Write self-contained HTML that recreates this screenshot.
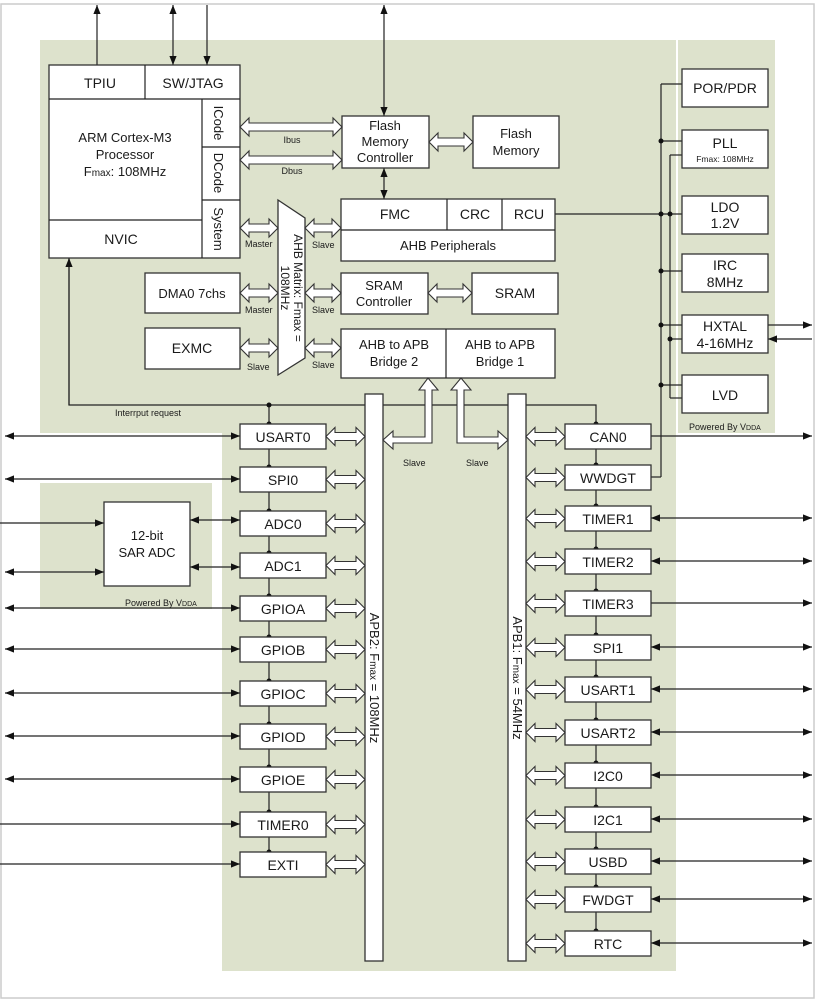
<!DOCTYPE html>
<html><head><meta charset="utf-8"><style>
html,body{margin:0;padding:0;background:#fff}
svg{display:block}
text{font-family:"Liberation Sans",Arial,sans-serif;fill:#1a1a1a}
.b{fill:#fff;stroke:#333;stroke-width:1.3}
.l{stroke:#222;stroke-width:1.2;fill:none}
</style></head><body>
<svg id="s" width="816" height="1000" viewBox="0 0 816 1000" xmlns="http://www.w3.org/2000/svg">
<defs>
<marker id="a" viewBox="0 0 10 10" refX="10" refY="5" markerWidth="9" markerHeight="9" markerUnits="userSpaceOnUse" orient="auto-start-reverse"><path d="M0,1 L10,5 L0,9 z" fill="#111"/></marker>
</defs>
<rect x="1" y="4" width="813" height="994" fill="none" stroke="#ccc" stroke-width="1.5"/>
<rect x="40" y="40" width="636" height="393" fill="#dde2cc"/>
<rect x="222" y="433" width="454" height="538" fill="#dde2cc"/>
<rect x="678" y="40" width="97" height="393" fill="#dde2cc"/>
<rect x="40" y="483" width="172" height="126" fill="#dde2cc"/>
<g id="lines"></g>
<rect class="b" x="49" y="65" width="191" height="193"/>
<line class="l" x1="49" y1="99" x2="240" y2="99"/>
<line class="l" x1="145" y1="65" x2="145" y2="99"/>
<line class="l" x1="202" y1="99" x2="202" y2="258"/>
<line class="l" x1="49" y1="220" x2="202" y2="220"/>
<line class="l" x1="202" y1="147" x2="240" y2="147"/>
<line class="l" x1="202" y1="200" x2="240" y2="200"/>
<text x="100" y="88" font-size="14" text-anchor="middle">TPIU</text>
<text x="193" y="88" font-size="14" text-anchor="middle">SW/JTAG</text>
<text x="125" y="142" font-size="13" text-anchor="middle">ARM Cortex-M3</text>
<text x="125" y="159" font-size="13" text-anchor="middle">Processor</text>
<text x="125" y="176" font-size="13" text-anchor="middle">F<tspan font-size="10">max</tspan>: 108MHz</text>
<text x="121" y="244" font-size="14" text-anchor="middle">NVIC</text>
<text transform="translate(214,123) rotate(90)" font-size="13" text-anchor="middle">ICode</text>
<text transform="translate(214,173) rotate(90)" font-size="13" text-anchor="middle">DCode</text>
<text transform="translate(214,229) rotate(90)" font-size="13" text-anchor="middle">System</text>
<rect class="b" x="342" y="116" width="87" height="52"/>
<text x="385" y="130" font-size="13" text-anchor="middle">Flash</text>
<text x="385" y="146" font-size="13" text-anchor="middle">Memory</text>
<text x="385" y="162" font-size="13" text-anchor="middle">Controller</text>
<rect class="b" x="473" y="116" width="86" height="52"/>
<text x="516" y="138" font-size="13" text-anchor="middle">Flash</text>
<text x="516" y="155" font-size="13" text-anchor="middle">Memory</text>
<rect class="b" x="341" y="199" width="214" height="62"/>
<line class="l" x1="341" y1="230" x2="555" y2="230"/>
<line class="l" x1="447" y1="199" x2="447" y2="230"/>
<line class="l" x1="502" y1="199" x2="502" y2="230"/>
<text x="395" y="219" font-size="14" text-anchor="middle">FMC</text>
<text x="475" y="219" font-size="14" text-anchor="middle">CRC</text>
<text x="529" y="219" font-size="14" text-anchor="middle">RCU</text>
<text x="448" y="250" font-size="13" text-anchor="middle">AHB Peripherals</text>
<polygon class="b" points="278,200 305,218 305,358 278,375"/>
<text transform="translate(291,288) rotate(90)" font-size="12" text-anchor="middle"><tspan x="0" dy="-3">AHB Matrix: Fmax =</tspan><tspan x="0" dy="13">108MHz</tspan></text>
<rect class="b" x="145" y="273" width="95" height="40"/>
<text x="192" y="298" font-size="13" text-anchor="middle">DMA0 7chs</text>
<rect class="b" x="145" y="328" width="95" height="41"/>
<text x="192" y="353" font-size="14" text-anchor="middle">EXMC</text>
<rect class="b" x="341" y="273" width="87" height="41"/>
<text x="384" y="290" font-size="13" text-anchor="middle">SRAM</text>
<text x="384" y="306" font-size="13" text-anchor="middle">Controller</text>
<rect class="b" x="472" y="273" width="86" height="41"/>
<text x="515" y="298" font-size="14" text-anchor="middle">SRAM</text>
<rect class="b" x="341" y="329" width="214" height="49"/>
<line class="l" x1="446" y1="329" x2="446" y2="378"/>
<text x="394" y="349" font-size="13" text-anchor="middle">AHB to APB</text>
<text x="394" y="366" font-size="13" text-anchor="middle">Bridge 2</text>
<text x="500" y="349" font-size="13" text-anchor="middle">AHB to APB</text>
<text x="500" y="366" font-size="13" text-anchor="middle">Bridge 1</text>
<g font-size="9">
<text x="292" y="143" text-anchor="middle">Ibus</text>
<text x="292" y="174" text-anchor="middle">Dbus</text>
<text x="245" y="247">Master</text>
<text x="312" y="248">Slave</text>
<text x="245" y="313">Master</text>
<text x="312" y="313">Slave</text>
<text x="247" y="370">Slave</text>
<text x="312" y="368">Slave</text>
<text x="115" y="416">Interrput request</text>
<text x="403" y="466">Slave</text>
<text x="466" y="466">Slave</text>
<text x="125" y="606">Powered By V<tspan font-size="7">DDA</tspan></text>
<text x="689" y="430">Powered By V<tspan font-size="7">DDA</tspan></text>
</g>
<rect class="b" x="682" y="69" width="86" height="38"/>
<text x="725" y="93" font-size="14" text-anchor="middle">POR/PDR</text>
<rect class="b" x="682" y="130" width="86" height="38"/>
<text x="725" y="148" font-size="14" text-anchor="middle">PLL</text>
<text x="725" y="162" font-size="8.5" text-anchor="middle">Fmax: 108MHz</text>
<rect class="b" x="682" y="196" width="86" height="38"/>
<text x="725" y="212" font-size="14" text-anchor="middle">LDO</text>
<text x="725" y="228" font-size="14" text-anchor="middle">1.2V</text>
<rect class="b" x="682" y="254" width="86" height="38"/>
<text x="725" y="270" font-size="14" text-anchor="middle">IRC</text>
<text x="725" y="287" font-size="14" text-anchor="middle">8MHz</text>
<rect class="b" x="682" y="315" width="86" height="38"/>
<text x="725" y="331" font-size="14" text-anchor="middle">HXTAL</text>
<text x="725" y="348" font-size="14" text-anchor="middle">4-16MHz</text>
<rect class="b" x="682" y="375" width="86" height="38"/>
<text x="725" y="400" font-size="14" text-anchor="middle">LVD</text>
<rect class="b" x="104" y="502" width="86" height="84"/>
<text x="147" y="540" font-size="13" text-anchor="middle">12-bit</text>
<text x="147" y="557" font-size="13" text-anchor="middle">SAR ADC</text>
<rect class="b" x="365" y="394" width="18" height="567"/>
<rect class="b" x="508" y="394" width="18" height="567"/>
<text transform="translate(370,678) rotate(90)" font-size="13" text-anchor="middle">APB2: F<tspan font-size="10">max</tspan> = 108MHz</text>
<text transform="translate(513,678) rotate(90)" font-size="13" text-anchor="middle">APB1: F<tspan font-size="10">max</tspan> = 54MHz</text>
<g id="per" font-size="14" text-anchor="middle">
<rect class="b" x="240" y="424" width="86" height="25"/><text x="283" y="442">USART0</text>
<rect class="b" x="240" y="467" width="86" height="25"/><text x="283" y="485">SPI0</text>
<rect class="b" x="240" y="511" width="86" height="25"/><text x="283" y="529">ADC0</text>
<rect class="b" x="240" y="553" width="86" height="25"/><text x="283" y="571">ADC1</text>
<rect class="b" x="240" y="596" width="86" height="25"/><text x="283" y="614">GPIOA</text>
<rect class="b" x="240" y="637" width="86" height="25"/><text x="283" y="655">GPIOB</text>
<rect class="b" x="240" y="681" width="86" height="25"/><text x="283" y="699">GPIOC</text>
<rect class="b" x="240" y="724" width="86" height="25"/><text x="283" y="742">GPIOD</text>
<rect class="b" x="240" y="767" width="86" height="25"/><text x="283" y="785">GPIOE</text>
<rect class="b" x="240" y="812" width="86" height="25"/><text x="283" y="830">TIMER0</text>
<rect class="b" x="240" y="852" width="86" height="25"/><text x="283" y="870">EXTI</text>
<rect class="b" x="565" y="424" width="86" height="25"/><text x="608" y="442">CAN0</text>
<rect class="b" x="565" y="465" width="86" height="25"/><text x="608" y="483">WWDGT</text>
<rect class="b" x="565" y="506" width="86" height="25"/><text x="608" y="524">TIMER1</text>
<rect class="b" x="565" y="549" width="86" height="25"/><text x="608" y="567">TIMER2</text>
<rect class="b" x="565" y="591" width="86" height="25"/><text x="608" y="609">TIMER3</text>
<rect class="b" x="565" y="635" width="86" height="25"/><text x="608" y="653">SPI1</text>
<rect class="b" x="565" y="677" width="86" height="25"/><text x="608" y="695">USART1</text>
<rect class="b" x="565" y="720" width="86" height="25"/><text x="608" y="738">USART2</text>
<rect class="b" x="565" y="763" width="86" height="25"/><text x="608" y="781">I2C0</text>
<rect class="b" x="565" y="807" width="86" height="25"/><text x="608" y="825">I2C1</text>
<rect class="b" x="565" y="849" width="86" height="25"/><text x="608" y="867">USBD</text>
<rect class="b" x="565" y="887" width="86" height="25"/><text x="608" y="905">FWDGT</text>
<rect class="b" x="565" y="931" width="86" height="25"/><text x="608" y="949">RTC</text>
</g>
<g id="fg"></g>
</svg>
<script>
var NS="http://www.w3.org/2000/svg",L=document.getElementById('lines'),F=document.getElementById('fg');
function el(g,t,a){var e=document.createElementNS(NS,t);for(var k in a)e.setAttribute(k,a[k]);g.appendChild(e);return e;}
function ln(x1,y1,x2,y2,s,e){var a={x1:x1,y1:y1,x2:x2,y2:y2,'class':'l'};if(s)a['marker-start']='url(#a)';if(e)a['marker-end']='url(#a)';el(L,'line',a);}
function pl(p){el(L,'polyline',{points:p,'class':'l'});}
function dot(x,y){el(L,'circle',{cx:x,cy:y,r:2.5,fill:'#111'});}
function ha(x1,x2,y){var h=9,s=4,k=9;el(F,'polygon',{points:[x1,y,x1+k,y-h,x1+k,y-s,x2-k,y-s,x2-k,y-h,x2,y,x2-k,y+h,x2-k,y+s,x1+k,y+s,x1+k,y+h].join(','),fill:'#fff',stroke:'#333','stroke-width':1.1});}
ln(97,65,97,5,0,1);ln(173,65,173,5,1,1);ln(207,5,207,65,0,1);
ln(384,116,384,5,1,1);ln(384,168,384,199,1,1);
ha(240,342,127);ha(240,342,160);ha(429,473,142);
ha(240,278,228);ha(305,341,228);ha(240,278,293);ha(305,341,293);ha(240,278,348);ha(305,341,348);
ha(428,472,293);
el(F,'polygon',{points:'428,378 438,390 432,390 432,443 393,443 393,449 383,440 393,431 393,437 425,437 425,390 419,390',fill:'#fff',stroke:'#333','stroke-width':1.1});
el(F,'polygon',{points:'461,378 471,390 464,390 464,437 498,437 498,431 508,440 498,449 498,443 457,443 457,390 451,390',fill:'#fff',stroke:'#333','stroke-width':1.1});
pl('69,258 69,405 596,405 596,424');
ln(69,405,69,258,0,1);
ln(269,405,269,852);ln(596,424,596,931);
dot(269,405);
[424,467,511,553,596,637,681,724,767,812,852].forEach(function(y){dot(269,y);ha(326,365,y+12.5);});
[424,465,506,549,591,635,677,720,763,807,849,887,931].forEach(function(y){dot(596,y);ha(526,565,y+12.5);});
ln(5,436,240,436,1,1);ln(5,479,240,479,1,1);
ln(0,523,104,523,0,1);ln(5,572,104,572,1,1);
ln(190,520,240,520,1,1);ln(190,567,240,567,1,1);
[608,649,693,736,779].forEach(function(y){ln(5,y,240,y,1,1);});
ln(0,824,240,824,0,1);ln(0,864,240,864,0,1);
ln(651,436,812,436,0,1);
pl('651,477 661,477');
[518,561].forEach(function(y){ln(812,y,651,y,1,1);});
ln(651,603,812,603,0,1);
[647,689,732,775,819,861,899,943].forEach(function(y){ln(651,y,812,y,1,1);});
ln(661,84,661,477);pl('661,84 682,84');
ln(670,155,670,398);pl('670,155 682,155');pl('670,398 682,398');
ln(555,214,682,214);dot(661,214);dot(670,214);
pl('661,141 682,141');dot(661,141);
pl('661,271 682,271');dot(661,271);
pl('661,325 682,325');dot(661,325);
pl('670,339 682,339');dot(670,339);
pl('661,385 682,385');dot(661,385);
ln(768,325,812,325,0,1);ln(812,339,768,339,0,1);
</script>
</body></html>
